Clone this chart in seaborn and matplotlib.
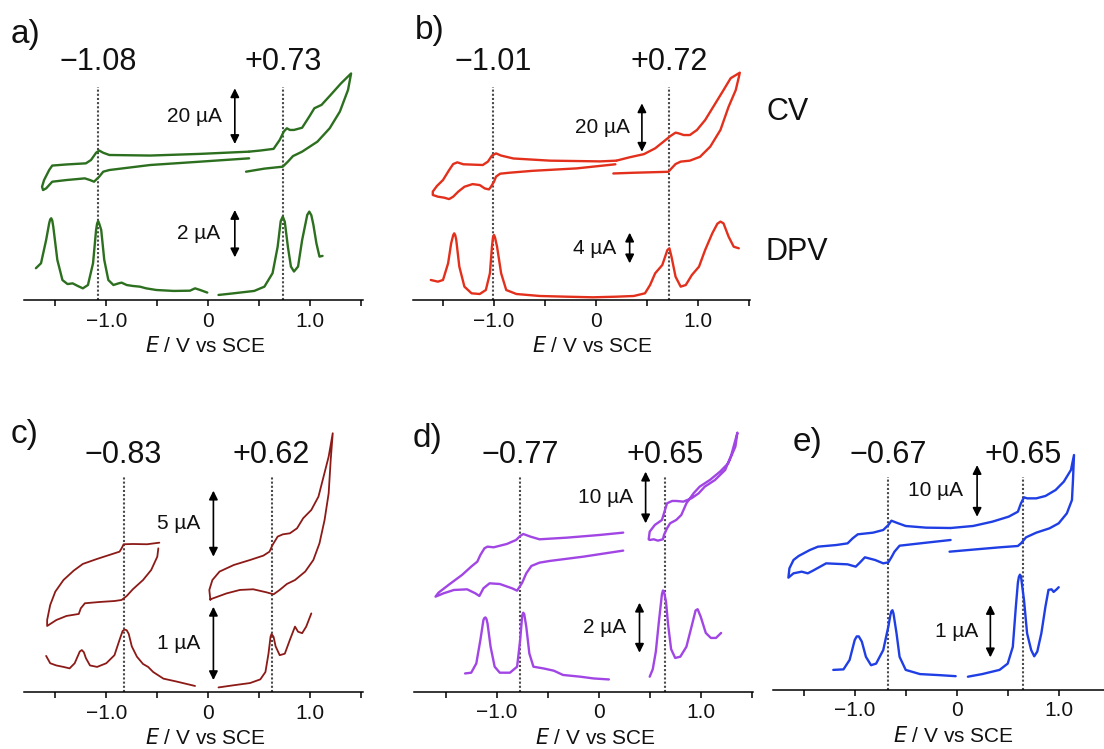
import matplotlib
matplotlib.use("Agg")
import matplotlib.pyplot as plt
import matplotlib.transforms as mtransforms
import seaborn as sns

sns.set_theme(style="white")
plt.rcParams['font.family'] = ['Liberation Sans', 'DejaVu Sans']
plt.rcParams['lines.solid_joinstyle'] = 'round'
plt.rcParams['lines.solid_capstyle'] = 'round'

# ---------------------------------------------------------------- data
# potentials in V vs SCE, currents in µA (CV and DPV offsets are arbitrary)

# a) ------------------------------------------------------------------
a_cv1_E = [0.40, -0.08, -0.57, -0.97, -1.03, -1.07, -1.12, -1.16, -1.21, -1.39, -1.53, -1.59, -1.62,
           -1.63, -1.61, -1.56, -1.53, -1.39, -1.20, -1.15, -1.10, -1.07, -1.03, -0.97, -0.57, -0.08, 0.40]
a_cv1_I = [0.6, -0.6, -1.8, -3.6, -4.2, -6.0, -7.8, -7.2, -6.6, -7.2, -7.8, -10.2, -10.8,
           -9.6, -7.2, -3.6, -2.0, -1.6, -1.2, 0.0, 2.6, 3.4, 2.6, 1.8, 1.6, 2.2, 3.0]
a_cv2_E = [0.37, 0.55, 0.73, 0.78, 0.83, 0.92, 1.07, 1.19, 1.29, 1.37, 1.40,
           1.30, 1.20, 1.11, 1.04, 0.99, 0.92, 0.84, 0.80, 0.77, 0.74, 0.70, 0.64, 0.51, 0.40]
a_cv2_I = [-4.2, -3.1, -2.4, -0.6, 1.4, 3.0, 6.6, 11.4, 17.4, 25.2, 31.1,
           27.5, 23.4, 19.8, 18.6, 15.6, 11.6, 10.8, 10.8, 11.4, 10.2, 7.2, 4.0, 3.4, 3.0]
a_dpv1_E = [-1.69, -1.64, -1.59, -1.56, -1.55, -1.54, -1.53, -1.52, -1.48, -1.43, -1.38, -1.33,
            -1.28, -1.23, -1.18, -1.13, -1.10, -1.09, -1.08, -1.07, -1.05, -1.02, -0.98, -0.93,
            -0.88, -0.85, -0.80, -0.74, -0.67, -0.61, -0.51, -0.34, -0.18, -0.13, -0.08, -0.01]
a_dpv1_I = [1.06, 1.27, 2.25, 2.96, 3.12, 3.17, 3.08, 2.82, 1.41, 0.56, 0.39, 0.42,
            0.31, 0.21, 0.35, 1.27, 2.68, 2.95, 3.05, 2.95, 2.68, 1.41, 0.56, 0.35,
            0.42, 0.45, 0.35, 0.31, 0.28, 0.21, 0.14, 0.10, 0.11, 0.21, 0.14, 0.03]
a_dpv2_E = [0.10, 0.25, 0.45, 0.55, 0.63, 0.68, 0.71, 0.73, 0.75, 0.78, 0.81, 0.84, 0.88, 0.92,
            0.97, 0.99, 1.01, 1.03, 1.06, 1.09, 1.12]
a_dpv2_I = [-0.07, 0.0, 0.10, 0.28, 0.85, 1.97, 3.05, 3.24, 3.02, 1.97, 1.13, 0.92, 1.13, 2.25,
            3.31, 3.45, 3.30, 2.90, 2.11, 1.55, 1.58]

# b) ------------------------------------------------------------------
b_cv1_E = [0.19, -0.19, -0.62, -0.85, -0.94, -0.98, -1.00, -1.03, -1.05, -1.09, -1.14, -1.21,
           -1.29, -1.35, -1.40, -1.44, -1.49, -1.55, -1.60, -1.60, -1.56, -1.50, -1.44, -1.40,
           -1.36, -1.30, -1.11, -1.06, -1.02, -0.98, -0.93, -0.81, -0.45, 0.04, 0.20]
b_cv1_I = [1.0, -0.7, -1.7, -2.5, -2.9, -4.1, -6.2, -8.3, -9.4, -9.0, -7.6, -7.2,
           -8.3, -10.3, -12.4, -13.4, -12.8, -12.4, -11.7, -10.3, -8.0, -5.5, -1.4, 1.1,
           1.8, 1.0, 0.7, 2.1, 4.6, 5.5, 4.6, 3.4, 2.5, 2.2, 2.5]
b_cv2_E = [0.17, 0.37, 0.63, 0.71, 0.74, 0.78, 0.83, 0.92, 1.02, 1.12, 1.22, 1.30, 1.37, 1.40, 1.41,
           1.32, 1.24, 1.15, 1.07, 0.99, 0.92, 0.86, 0.81, 0.78, 0.73, 0.66, 0.58, 0.47, 0.33, 0.20]
b_cv2_I = [-2.8, -2.5, -2.2, -2.1, -0.7, 1.1, 2.1, 2.5, 4.1, 8.3, 15.2, 24.8, 31.7, 37.0, 38.9,
           36.6, 31.0, 24.8, 19.3, 15.2, 13.1, 13.1, 13.8, 14.1, 12.7, 10.3, 7.6, 5.2, 3.9, 2.5]
b_dpv_E = [-1.62, -1.55, -1.50, -1.45, -1.42, -1.40, -1.39, -1.38, -1.37, -1.34, -1.29, -1.22,
           -1.14, -1.08, -1.04, -1.02, -1.01, -1.00, -0.99, -0.97, -0.93, -0.88, -0.78, -0.55,
           -0.29, -0.03, 0.20, 0.37, 0.48, 0.53, 0.58, 0.65, 0.70, 0.72, 0.74, 0.78, 0.83,
           0.88, 0.94, 1.01, 1.07, 1.14, 1.19, 1.22, 1.25, 1.30, 1.35, 1.40]
b_dpv_I = [1.96, 1.74, 1.96, 4.13, 6.74, 7.80, 8.04, 7.80, 7.17, 3.70, 1.09, 0.22,
           0.13, 0.65, 2.83, 6.30, 7.50, 7.83, 7.50, 6.30, 2.83, 0.65, 0.13, -0.13,
           -0.22, -0.30, -0.22, -0.13, 0.22, 1.30, 2.83, 3.91, 5.87, 6.09, 5.00, 2.39, 1.09,
           1.30, 2.61, 3.70, 5.87, 8.04, 9.30, 9.57, 9.35, 7.61, 6.30, 6.09]

# c) ------------------------------------------------------------------
c_cv1_E = [-0.49, -0.50, -0.56, -0.64, -0.74, -0.80, -0.85, -0.92, -1.06, -1.21, -1.25, -1.27,
           -1.39, -1.49, -1.58, -1.58, -1.55, -1.50, -1.42, -1.32, -1.23, -1.09, -0.95, -0.87,
           -0.85, -0.83, -0.74, -0.60, -0.48]
c_cv1_I = [1.89, 1.26, 0.25, -0.51, -1.21, -1.72, -2.02, -2.10, -2.17, -2.27, -2.65, -3.08,
           -3.23, -3.54, -3.99, -3.54, -2.40, -1.39, -0.51, 0.20, 0.71, 1.09, 1.44, 1.64,
           1.89, 2.20, 2.22, 2.20, 2.32]
c_cv2_E = [0.02, 0.01, 0.04, 0.11, 0.25, 0.41, 0.54, 0.60, 0.63, 0.68, 0.73, 0.80, 0.87, 0.93,
           1.01, 1.08, 1.13, 1.18, 1.22, 1.20, 1.18, 1.14, 1.09, 1.03, 0.95, 0.85, 0.77, 0.70,
           0.64, 0.57, 0.44, 0.31, 0.18, 0.02]
c_cv2_I = [-2.02, -1.26, -0.51, 0.13, 0.63, 1.01, 1.34, 1.64, 2.15, 2.78, 2.95, 3.03, 3.41, 4.17,
           4.80, 5.81, 7.32, 8.84, 10.61, 8.59, 6.06, 4.04, 2.27, 1.01, 0.13, -0.51, -0.81, -1.26,
           -1.59, -1.44, -1.21, -1.26, -1.52, -1.97]
c_dpv1_E = [-1.59, -1.55, -1.49, -1.42, -1.36, -1.31, -1.26, -1.24, -1.22, -1.20, -1.16, -1.09,
            -1.00, -0.92, -0.87, -0.84, -0.82, -0.80, -0.78, -0.75, -0.70, -0.64, -0.59, -0.54,
            -0.44, -0.31, -0.13]
c_dpv1_I = [0.42, 0.32, 0.29, 0.27, 0.25, 0.32, 0.48, 0.50, 0.47, 0.39, 0.29, 0.27,
            0.32, 0.43, 0.64, 0.76, 0.78, 0.77, 0.72, 0.55, 0.41, 0.31, 0.27, 0.20,
            0.11, 0.07, 0.01]
c_dpv2_E = [0.10, 0.25, 0.41, 0.51, 0.56, 0.59, 0.61, 0.62, 0.64, 0.66, 0.70, 0.75, 0.80, 0.85,
            0.88, 0.92, 0.96, 1.01]
c_dpv2_I = [-0.01, 0.02, 0.05, 0.10, 0.20, 0.45, 0.68, 0.72, 0.68, 0.55, 0.43, 0.45, 0.64, 0.82,
            0.75, 0.73, 0.82, 1.00]

# d) ------------------------------------------------------------------
d_cv1_E = [0.24, -0.15, -0.48, -0.58, -0.66, -0.71, -0.75, -0.80, -0.85, -0.97, -1.07, -1.13,
           -1.17, -1.21, -1.29, -1.42, -1.52, -1.60, -1.57, -1.46, -1.34, -1.25, -1.19, -1.16,
           -1.12, -1.09, -1.03, -0.90, -0.81, -0.77, -0.74, -0.67, -0.58, -0.31, 0.01, 0.24]
d_cv1_I = [0.52, -0.65, -1.48, -1.81, -2.45, -3.87, -5.68, -7.23, -6.77, -5.94, -5.81, -6.77,
           -8.26, -7.74, -6.97, -7.10, -7.74, -8.39, -7.61, -5.94, -4.19, -2.58, -1.61, -0.32,
           0.97, 1.29, 1.16, 1.81, 2.58, 3.35, 3.74, 3.23, 2.71, 3.03, 3.55, 4.00]
d_cv2_E = [0.49, 0.50, 0.55, 0.62, 0.65, 0.67, 0.72, 0.76, 0.83, 0.91, 0.98, 1.04, 1.14, 1.24,
           1.30, 1.36, 1.34, 1.27, 1.19, 1.09, 0.99, 0.93, 0.86, 0.81, 0.76, 0.70, 0.67, 0.64,
           0.63, 0.58, 0.54, 0.50]
d_cv2_I = [2.71, 4.19, 5.48, 6.45, 8.39, 9.68, 10.13, 10.13, 10.00, 10.65, 11.61, 12.90, 14.19,
           16.13, 19.03, 23.35, 20.65, 17.42, 15.81, 14.19, 12.90, 11.61, 9.68, 7.42, 6.45, 5.81,
           4.84, 3.55, 2.71, 2.45, 2.71, 2.58]
d_dpv1_E = [-1.31, -1.25, -1.20, -1.16, -1.13, -1.12, -1.11, -1.10, -1.09, -1.06, -1.02, -0.97,
            -0.87, -0.80, -0.77, -0.75, -0.74, -0.73, -0.71, -0.68, -0.64, -0.54, -0.44, -0.35,
            -0.18, -0.05, 0.10]
d_dpv1_I = [0.13, 0.16, 0.53, 1.47, 2.27, 2.35, 2.37, 2.30, 2.13, 1.20, 0.40, 0.16,
            0.16, 0.40, 1.47, 2.45, 2.56, 2.50, 2.00, 0.93, 0.40, 0.33, 0.24, 0.07,
            0.00, -0.07, -0.11]
d_dpv2_E = [0.50, 0.53, 0.56, 0.59, 0.62, 0.63, 0.64, 0.66, 0.68, 0.71, 0.75, 0.80, 0.86, 0.91,
            0.95, 0.97, 1.00, 1.05, 1.10, 1.15, 1.20]
d_dpv2_I = [0.00, 0.30, 1.00, 2.20, 3.30, 3.45, 3.40, 3.00, 2.10, 1.10, 0.75, 0.80, 1.20, 2.00,
            2.65, 2.70, 2.40, 1.75, 1.55, 1.55, 1.75]

# e) ------------------------------------------------------------------
e_cv1_E = [-0.06, -0.30, -0.56, -0.61, -0.64, -0.67, -0.72, -0.80, -0.90, -0.95, -0.99, -1.07,
           -1.28, -1.41, -1.46, -1.52, -1.60, -1.65, -1.64, -1.60, -1.55, -1.44, -1.36, -1.18,
           -1.07, -1.02, -0.97, -0.82, -0.72, -0.67, -0.64, -0.59, -0.50, -0.30, -0.06]
e_cv1_I = [0.00, -0.52, -1.10, -2.26, -3.35, -4.32, -4.52, -3.87, -3.35, -4.39, -5.16, -4.71,
           -4.52, -5.94, -6.45, -6.13, -6.45, -7.29, -5.48, -3.87, -3.10, -1.94, -1.29, -0.97,
           -0.65, 0.32, 1.10, 1.42, 1.94, 2.90, 3.74, 3.35, 2.71, 2.39, 2.32]
e_cv2_E = [-0.07, 0.19, 0.42, 0.60, 0.63, 0.68, 0.78, 0.91, 1.00, 1.08, 1.13, 1.14, 1.15,
           1.12, 1.05, 0.97, 0.87, 0.78, 0.69, 0.66, 0.63, 0.60, 0.51, 0.35, 0.16, -0.06]
e_cv2_I = [-2.26, -1.81, -1.42, -1.16, -0.65, 0.52, 1.42, 2.26, 3.23, 5.16, 7.74, 11.61, 16.45,
           13.55, 11.29, 9.68, 8.52, 8.06, 8.06, 8.26, 7.10, 5.48, 4.52, 3.55, 2.71, 2.32]
e_dpv1_E = [-1.21, -1.11, -1.05, -1.00, -0.98, -0.96, -0.93, -0.89, -0.84, -0.79, -0.72, -0.67,
            -0.65, -0.64, -0.63, -0.62, -0.59, -0.56, -0.50, -0.36, -0.17, -0.01]
e_dpv1_I = [0.13, 0.14, 0.32, 0.70, 0.77, 0.77, 0.67, 0.38, 0.22, 0.25, 0.51, 0.96,
            1.18, 1.25, 1.27, 1.21, 0.83, 0.38, 0.13, 0.05, 0.03, 0.01]
e_dpv2_E = [0.11, 0.25, 0.42, 0.50, 0.55, 0.58, 0.60, 0.61, 0.62, 0.63, 0.66, 0.69, 0.73, 0.76,
            0.79, 0.83, 0.87, 0.90, 0.93, 0.95, 0.98, 1.00]
e_dpv2_I = [0.00, 0.05, 0.13, 0.25, 0.57, 1.34, 1.80, 1.91, 1.95, 1.92, 1.46, 0.83, 0.51, 0.39,
            0.48, 0.83, 1.34, 1.66, 1.67, 1.62, 1.67, 1.71]

# marked potentials (dotted lines) and scale bars (µA)
a_marks = [-1.08, 0.73]
b_marks = [-1.01, 0.72]
c_marks = [-0.83, 0.62]
d_marks = [-0.77, 0.65]
e_marks = [-0.67, 0.65]
cv_scales = {'a': 20, 'b': 20, 'c': 5, 'd': 10, 'e': 10}
dpv_scales = {'a': 2, 'b': 4, 'c': 1, 'd': 2, 'e': 1}
tick_values = [-1.0, 0.0, 1.0]
tick_labels = ['\u22121.0', '0', '1.0']
minor_values = [-1.5, -0.5, 0.5, 1.5]

panels = {
    'a': dict(color='#2c6f1f', lw=1.7, marks=a_marks,
              cv=[(a_cv1_E, a_cv1_I), (a_cv2_E, a_cv2_I)],
              dpv=[(a_dpv1_E, a_dpv1_I), (a_dpv2_E, a_dpv2_I)]),
    'b': dict(color='#e2301c', lw=1.7, marks=b_marks,
              cv=[(b_cv1_E, b_cv1_I), (b_cv2_E, b_cv2_I)],
              dpv=[(b_dpv_E, b_dpv_I)]),
    'c': dict(color='#8c1a17', lw=1.3, marks=c_marks,
              cv=[(c_cv1_E, c_cv1_I), (c_cv2_E, c_cv2_I)],
              dpv=[(c_dpv1_E, c_dpv1_I), (c_dpv2_E, c_dpv2_I)]),
    'd': dict(color='#a146e4', lw=1.7, marks=d_marks,
              cv=[(d_cv1_E, d_cv1_I), (d_cv2_E, d_cv2_I)],
              dpv=[(d_dpv1_E, d_dpv1_I), (d_dpv2_E, d_dpv2_I)]),
    'e': dict(color='#1f3ee4', lw=1.7, marks=e_marks,
              cv=[(e_cv1_E, e_cv1_I), (e_cv2_E, e_cv2_I)],
              dpv=[(e_dpv1_E, e_dpv1_I), (e_dpv2_E, e_dpv2_I)]),
}

# ---------------------------------------------------------------- layout (pixels)
W, H = 1104, 749
PPV = 102.0  # pixels per volt
layout = {
    'a': dict(zero=208.3, left=24, right=363, axis=300, top=40, cv0=160.0, cvk=2.783,
              dpv0=293.3, dpvk=23.67, dot_top=87, head_y=62, letter=(11, 35),
              cv_bar=(0.26, 5.75, 0.13), dpv_bar=(0.26, 1.52, 0.12)),
    'b': dict(zero=596.0, left=413, right=750, axis=300, top=40, cv0=166.7, cvk=2.417,
              dpv0=295.0, dpvk=7.667, dot_top=87, head_y=62, letter=(415, 30),
              cv_bar=(0.45, 6.2, 0.33), dpv_bar=(0.33, 4.13, 0.20)),
    'c': dict(zero=208.3, left=24, right=363, axis=692, top=430, cv0=573.3, cvk=13.2,
              dpv0=686.7, dpvk=73.3, dot_top=477, head_y=455, letter=(11, 435),
              cv_bar=(0.05, 1.26, -0.08), dpv_bar=(0.05, 0.09, -0.08)),
    'd': dict(zero=598.7, left=414, right=753, axis=691.5, top=430, cv0=553.3, cvk=5.167,
              dpv0=676.7, dpvk=25.0, dot_top=477, head_y=455, letter=(413, 439),
              cv_bar=(0.46, 5.8, 0.34), dpv_bar=(0.40, 0.96, 0.27)),
    'e': dict(zero=956.7, left=773, right=1111, axis=689.5, top=430, cv0=540.0, cvk=5.167,
              dpv0=676.7, dpvk=52.33, dot_top=477, head_y=455, letter=(793, 443),
              cv_bar=(0.20, 4.5, 0.065), dpv_bar=(0.33, 0.37, 0.21)),
}

fig = plt.figure(figsize=(W / 100, H / 100), dpi=100)
fig.patch.set_facecolor('white')

BIG = 22
LETTER = 24
TICK = 15
LABEL = 15
BAR = 15
INK = '#111111'


def scale_bar(ax, x, y0, length, xtext):
    ax.annotate('', xy=(x, y0 + length), xytext=(x, y0),
                arrowprops=dict(arrowstyle='<|-|>', color='black', lw=1.2,
                                mutation_scale=13, shrinkA=0, shrinkB=0),
                annotation_clip=False)
    ax.text(xtext, y0 + length / 2, f'{length} \u00b5A', ha='right', va='center',
            fontsize=BAR, color=INK)


for key, p in panels.items():
    L = layout[key]
    rect = [L['left'] / W, 1 - L['axis'] / H, (L['right'] - L['left']) / W,
            (L['axis'] - L['top']) / H]
    xlim = ((L['left'] - L['zero']) / PPV, (L['right'] - L['zero']) / PPV)

    ax_dpv = fig.add_axes(rect)
    ax_cv = fig.add_axes(rect, sharex=ax_dpv)
    for ax in (ax_dpv, ax_cv):
        ax.patch.set_visible(False)
        for s in ('top', 'right', 'left'):
            ax.spines[s].set_visible(False)
        ax.set_yticks([])
        ax.set_xlim(*xlim)
    ax_cv.spines['bottom'].set_visible(False)
    ax_cv.tick_params(axis='x', bottom=False, labelbottom=False)

    ax_cv.set_ylim(-(L['axis'] - L['cv0']) / L['cvk'], (L['cv0'] - L['top']) / L['cvk'])
    ax_dpv.set_ylim(-(L['axis'] - L['dpv0']) / L['dpvk'], (L['dpv0'] - L['top']) / L['dpvk'])

    # x axis
    ax_dpv.spines['bottom'].set_color('black')
    ax_dpv.spines['bottom'].set_linewidth(1.1)
    ax_dpv.set_xticks(tick_values)
    ax_dpv.set_xticklabels(tick_labels)
    ax_dpv.set_xticks(minor_values, minor=True)
    ax_dpv.tick_params(axis='x', which='both', bottom=True, direction='out', length=4.5,
                       width=1.1, color='black', labelsize=TICK, pad=4, labelcolor=INK)
    ax_dpv.set_xlabel('')
    ft = mtransforms.blended_transform_factory(ax_dpv.transData, fig.transFigure)
    ax_dpv.text(-0.03, 1 - (L['axis'] + 46) / H, r'$\it{E}$ / V vs SCE', transform=ft,
                ha='center', va='center', fontsize=LABEL, color=INK)

    # traces
    for E, I in p['cv']:
        sns.lineplot(x=E, y=I, sort=False, estimator=None, ax=ax_cv, color=p['color'],
                     lw=p['lw'], legend=False)
    for E, I in p['dpv']:
        sns.lineplot(x=E, y=I, sort=False, estimator=None, ax=ax_dpv, color=p['color'],
                     lw=p['lw'], legend=False)

    # dotted guides and their potentials
    frac_top = (L['axis'] - L['dot_top']) / (L['axis'] - L['top'])
    bt = mtransforms.blended_transform_factory(ax_dpv.transData, ax_dpv.transAxes)
    for m in p['marks']:
        ax_dpv.plot([m, m], [0, frac_top], transform=bt, color='#4a4a4a', lw=1.5,
                    ls=(0, (1, 1)), zorder=0, clip_on=False)
        txt = ('+' if m > 0 else '\u2212') + f'{abs(m):.2f}'
        ax_dpv.text(m, 1 - L['head_y'] / H, txt, transform=ft, ha='center', va='center',
                    fontsize=BIG, color=INK)

    # scale bars
    xb, yb, xt = L['cv_bar']
    scale_bar(ax_cv, xb, yb, cv_scales[key], xt)
    xb, yb, xt = L['dpv_bar']
    scale_bar(ax_dpv, xb, yb, dpv_scales[key], xt)

    lx, ly = L['letter']
    fig.text(lx / W, 1 - ly / H, key + ')', ha='left', va='center', fontsize=LETTER,
             color=INK)

fig.text(766 / W, 1 - 112 / H, 'CV', ha='left', va='center', fontsize=BIG, color=INK)
fig.text(766 / W, 1 - 252 / H, 'DPV', ha='left', va='center', fontsize=BIG, color=INK)

fig.savefig('out.png', dpi=100, facecolor='white')
